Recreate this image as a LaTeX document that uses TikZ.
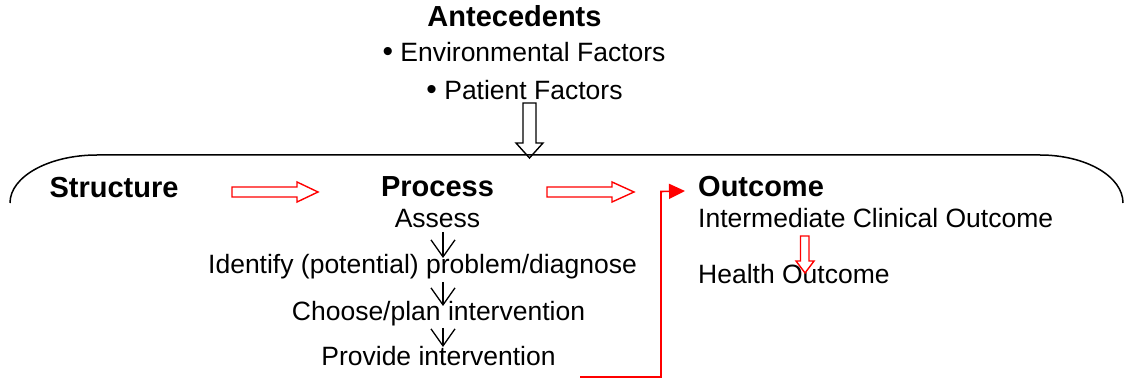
\documentclass[tikz,border=0pt]{standalone}
\usepackage{fontspec}
\setmainfont{Liberation Sans}
\usetikzlibrary{arrows.meta}
\tikzset{
  txt/.style={inner sep=0pt, anchor=base, font=\fontsize{26.5}{31}\selectfont},
  ltxt/.style={txt, anchor=base west},
  head/.style={inner sep=0pt, anchor=base, font=\fontsize{29}{34}\selectfont\bfseries},
  lhead/.style={head, anchor=base west},
  blockred/.style={draw=red, line width=1.4pt, fill=white, line join=miter},
  blockblack/.style={draw=black, line width=1.4pt, fill=white, line join=miter},
  flow/.style={draw=black, line width=1.3pt, -{Straight Barb[length=17pt,width=24pt,line width=1.3pt]}},
  link/.style={draw=red, line width=1.6pt, -{Triangle[length=16pt,width=15pt]}},
  frame/.style={draw=black, line width=1.5pt},
}
\begin{document}
\begin{tikzpicture}[x=1pt,y=-1pt]
\useasboundingbox (0,0) rectangle (1128,379);

% Antecedents
\node[head] (ante) at (514.5,27) {Antecedents};
\node[txt] (env) at (524,62) {{\fontsize{30}{31}\selectfont •} Environmental Factors};
\node[txt] (pat) at (524.5,100) {{\fontsize{30}{31}\selectfont •} Patient Factors};

% hollow black down arrow
\draw[blockblack] (523,103) -- (536,103) -- (536,143) -- (543,143) -- (529.5,158) -- (516,143) -- (523,143) -- cycle;

% frame line
\draw[frame] (10,203) .. controls (10,176.5) and (49,155) .. (97,155)
  -- (1040,155) .. controls (1086,155) and (1123,176.5) .. (1123,203);

% headings
\node[head] (struct) at (114,197.5) {Structure};
\node[head] (proc) at (437.5,197) {Process};
\node[lhead] (out) at (698,196.5) {Outcome};

% red hollow arrows
\draw[blockred] (232,187) -- (297,187) -- (297,182) -- (318,192) -- (297,202) -- (297,197) -- (232,197) -- cycle;
\draw[blockred] (547,187) -- (612,187) -- (612,182) -- (634,192) -- (612,202) -- (612,197) -- (547,197) -- cycle;

% process steps
\node[txt] (assess) at (437.5,228) {Assess};
\node[txt] (ident) at (422.5,274) {Identify (potential) problem/diagnose};
\node[txt] (choose) at (438.5,320.5) {Choose/plan intervention};
\node[txt] (provide) at (438.5,366) {Provide intervention};

\coordinate (a1) at (443,232);
\coordinate (a1e) at (443,258);
\coordinate (a2) at (443,282);
\coordinate (a2e) at (443,306);
\coordinate (a3) at (443,328);
\coordinate (a3e) at (443,347);
\draw[flow] (a1) -- (a1e);
\draw[flow] (a2) -- (a2e);
\draw[flow] (a3) -- (a3e);

% outcome column
\node[ltxt] (inter) at (698,228) {Intermediate Clinical Outcome};
\node[ltxt] (health) at (698,283.5) {Health Outcome};
\draw[blockred] (800.5,236) -- (809,236) -- (809,261) -- (814,261) -- (805,273) -- (796,261) -- (800.5,261) -- cycle;

% red connector
\coordinate (cstart) at (580,377);
\coordinate (cbend) at (661,377);
\coordinate (ctop) at (661,191.5);
\coordinate (cend) at (685,191);
\draw[link] (cstart) -- (cbend) -- (ctop) -- (cend);
\end{tikzpicture}
\end{document}
